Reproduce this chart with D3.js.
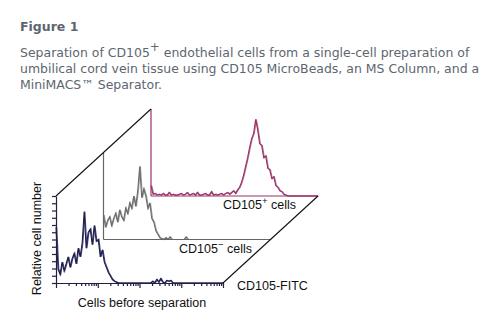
<!DOCTYPE html>
<html><head><meta charset="utf-8">
<script src="https://cdn.jsdelivr.net/npm/d3@7"></script>
<style>body{margin:0;background:#fff}svg{display:block}</style>
</head><body>
<script>
// ---- data ----
const titleText = "Figure 1";
const captionLines = [
  ["Separation of CD105", "+", " endothelial cells from a single-cell preparation of"],
  ["umbilical cord vein tissue using CD105 MicroBeads, an MS Column, and a"],
  ["MiniMACS\u2122 Separator."]
];
const panelNames = ["Cells before separation", "CD105\u2212 cells", "CD105+ cells"];
// relative cell number per fluorescence channel (0-100), 84 bins across 4 decades
const beforeCounts = [64,16,10,24,14,22,30,18,28,34,22,40,30,46,82,40,58,62,44,66,48,50,30,38,24,18,12,8,4,2,
  1,0,0,0,0,0,0,0,0,0,0,0,0,0,0,0,0,0,2,0,4,1,5,1,0,3,2,3,0,0,0,0,0,0,0,0,0,0,0,0,0,0,0,0,0,0,0,0,0,0,0,0,0,0];
const negativeCounts = [28,14,22,26,16,24,30,20,34,26,22,36,30,42,36,50,38,56,84,48,58,50,36,42,24,20,10,6,2,1,
  0,2,0,3,0,0,0,0,0,0,0,3,0,0,0,0,0,0,0,0,0,0,0,0,0,0,0,0,0,0,0,0,0,0,0,0,0,0,0,0,0,0,0,0,0,0,0,0,0,0,0,0,0,0];
const positiveCounts = [12,2,3,1,2,1,3,1,1,4,1,2,1,1,2,3,1,2,4,1,2,3,1,4,1,1,2,3,1,1,5,1,2,1,2,3,1,3,4,2,4,6,3,7,
  10,16,24,34,44,56,66,72,88,76,60,58,44,46,32,30,20,22,12,10,6,5,2,1,0,0,0,0,0,0,0,0,0,0,0,0,0,0,0,0];
const decades = [1, 10, 100, 1000, 10000];
const yTickCount = 12;

// ---- layout ----
const W = 483, H = 324;
const svg = d3.select("body").append("svg").attr("width", W).attr("height", H);
const capFont = "DejaVu Sans, Verdana, sans-serif";
const capColor = "#5d6670";

svg.append("text").attr("x", 20).attr("y", 31).text(titleText)
  .attr("font-family", capFont).attr("font-weight", "bold")
  .attr("font-size", 12.5).attr("fill", capColor);

const capBase = [57, 73, 89];
const capTexts = captionLines.map((parts, i) => {
  const t = svg.append("text").attr("x", 20).attr("y", capBase[i])
    .attr("font-family", capFont).attr("font-size", 12).attr("fill", capColor);
  parts.forEach((p, j) => {
    const ts = t.append("tspan").text(p);
    if (p === "+") ts.attr("dy", -6).attr("class", "sup");
    else if (j > 0 && parts[j-1] === "+") ts.attr("dy", 6);
  });
  return t;
});
const w0 = capTexts[0].node().getComputedTextLength();
const fs = 12 * 450 / w0;
capTexts.forEach(t => t.attr("font-size", fs));
capTexts[0].selectAll("tspan.sup").attr("font-size", fs * 0.95);

const ox = 56, oy = 283, pw = 167, ph = 87, ddx = 47.5, ddy = -43.5;
const x = d3.scaleLog().domain([decades[0], decades[decades.length-1]]).range([0, pw]);
const y = d3.scaleLinear().domain([0, 100]).range([0, -ph]);
const font = "Liberation Sans, Arial, sans-serif";

const series = [
  {data: positiveCounts, color: "#9a2f68", under: "#b07090", frame: "#993366", k: 2},
  {data: negativeCounts, color: "#6a6a6a", under: "#9a9a9a", frame: "#666666", k: 1},
  {data: beforeCounts, color: "#1e1e40", under: "#45458a", frame: "#1f1f3f", k: 0}
];

series.forEach(s => {
  const g = svg.append("g").attr("transform", `translate(${ox + s.k*ddx},${oy + s.k*ddy})`);
  const bx = d3.scaleLinear().domain([0, s.data.length - 1]).range([0, pw]);
  const pts = s.data.map((v, i) => [bx(i), y(v)]);
  g.append("path").attr("d", d3.line()(pts.map(p => [p[0] + 0.7, p[1]])))
    .attr("fill", "none").attr("stroke", s.under).attr("stroke-width", 1.2);
  g.append("path").attr("d", d3.line()(pts))
    .attr("fill", "none").attr("stroke", s.color).attr("stroke-width", 1.1);
  if (s.k > 0) {
    g.append("line").attr("x1", 0).attr("y1", 0).attr("x2", 0).attr("y2", -ph).attr("stroke", s.frame).attr("stroke-width", 1.2);
    g.append("line").attr("x1", 0).attr("y1", 0).attr("x2", pw).attr("y2", 0).attr("stroke", s.frame).attr("stroke-width", 1.2);
  }
});

// front axes
const front = svg.append("g").attr("transform", `translate(${ox},${oy})`);
const ya = d3.axisLeft(d3.scaleLinear().domain([0, yTickCount]).range([0, -ph]))
  .tickValues(d3.range(0, yTickCount + 1)).tickFormat("").tickSize(4).tickSizeOuter(0);
front.append("g").call(ya).call(g => { g.selectAll("path,line").attr("stroke", "#1f1f3f").attr("stroke-width", 1.2); });
const minor = [];
decades.slice(0, -1).forEach(d => { for (let m = 1; m < 10; m++) minor.push(d*m); });
minor.push(decades[decades.length-1]);
const xa = d3.axisBottom(x).tickValues(minor).tickFormat("").tickSize(3).tickSizeOuter(0);
front.append("g").call(xa).call(g => {
  g.selectAll("path,line").attr("stroke", "#1f1f3f").attr("stroke-width", 1.2);
  g.selectAll(".tick line").filter(v => decades.includes(v)).attr("y2", 5);
});

// diagonals
svg.append("line").attr("x1", ox).attr("y1", oy - ph).attr("x2", ox + 2*ddx).attr("y2", oy - ph + 2*ddy)
  .attr("stroke", "#111").attr("stroke-width", 1.1);
svg.append("line").attr("x1", ox + pw).attr("y1", oy).attr("x2", ox + pw + 2*ddx).attr("y2", oy + 2*ddy)
  .attr("stroke", "#111").attr("stroke-width", 1.1);

// labels
const lblSize = 12.5;
svg.append("text").attr("transform", `translate(41,${oy - ph/2 - 1}) rotate(-90)`).attr("text-anchor", "middle")
  .attr("font-family", font).attr("font-size", lblSize).attr("fill", "#111").text("Relative cell number");
svg.append("text").attr("x", 142).attr("y", 307).attr("text-anchor", "middle")
  .attr("font-family", font).attr("font-size", lblSize).attr("fill", "#111").text(panelNames[0]);
svg.append("text").attr("x", 237).attr("y", 290)
  .attr("font-family", font).attr("font-size", lblSize).attr("fill", "#111").text("CD105-FITC");
function supLabel(xp, yp, sup) {
  const t = svg.append("text").attr("x", xp).attr("y", yp).attr("font-family", font).attr("font-size", lblSize).attr("fill", "#111");
  t.append("tspan").text("CD105");
  t.append("tspan").text(sup).attr("dy", -5).attr("font-size", 9.5);
  t.append("tspan").text(" cells").attr("dy", 5);
}
supLabel(179, 253, "\u2212");
supLabel(223, 209, "+");
</script>
</body></html>
